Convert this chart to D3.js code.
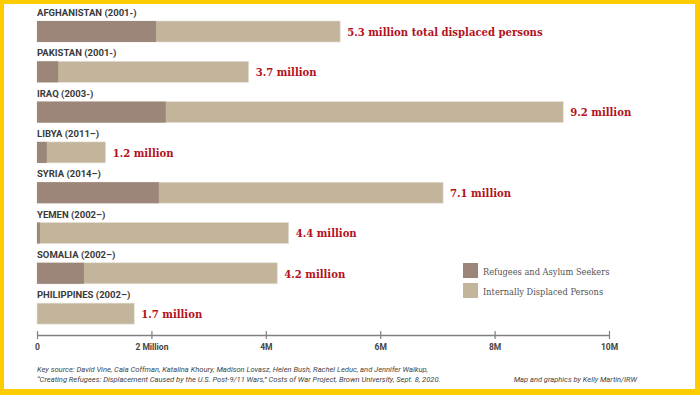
<!DOCTYPE html>
<html>
<head>
<meta charset="utf-8">
<script src="https://cdn.jsdelivr.net/npm/d3@7"></script>
<style>
  html, body { margin: 0; padding: 0; background: #FFCC00; }
  svg { display: block; }
</style>
</head>
<body>
<svg id="chart" width="700" height="395"></svg>
<script>
const countries = ["AFGHANISTAN (2001-)", "PAKISTAN (2001-)", "IRAQ (2003-)", "LIBYA (2011\u2013)", "SYRIA (2014\u2013)", "YEMEN (2002\u2013)", "SOMALIA (2002\u2013)", "PHILIPPINES (2002\u2013)"];
const refugees = [2.08, 0.37, 2.25, 0.17, 2.13, 0.05, 0.82, 0];
const totals = [5.3, 3.7, 9.2, 1.2, 7.1, 4.4, 4.2, 1.7];
const valueLabels = ["5.3 million total displaced persons", "3.7 million", "9.2 million", "1.2 million", "7.1 million", "4.4 million", "4.2 million", "1.7 million"];
const tickValues = [0, 2, 4, 6, 8, 10];
const tickLabels = ["0", "2 Million", "4M", "6M", "8M", "10M"];
const legendLabels = ["Refugees and Asylum Seekers", "Internally Displaced Persons"];
const sourceLines = ["Key source: David Vine, Cala Coffman, Katalina Khoury, Madison Lovasz, Helen Bush, Rachel Leduc, and Jennifer Walkup,",
  "\u201CCreating Refugees: Displacement Caused by the U.S. Post-9/11 Wars,\u201D Costs of War Project, Brown University, Sept. 8, 2020."];
const credit = "Map and graphics by Kelly Martin/IRW";

const colors = { refugee: "#9B8679", idp: "#C2B59B", red: "#B3121C", label: "#3a3a3a", axis: "#808080" };

const svg = d3.select("#chart");
svg.append("rect").attr("x", 4).attr("y", 4).attr("width", 691).attr("height", 385).attr("fill", "#ffffff");

const x = d3.scaleLinear().domain([0, 10]).range([37, 609]);
const y = d3.scaleBand().domain(countries).range([21, 324.1]).paddingInner(0.479).paddingOuter(0);

const rows = svg.append("g").selectAll("g").data(countries).join("g");

rows.append("text")
  .attr("x", 37)
  .attr("y", d => y(d) - 5)
  .attr("font-family", "Roboto, sans-serif")
  .attr("font-weight", 700)
  .attr("font-size", 9.5)
  .attr("fill", colors.label)
  .text(d => d);

rows.append("rect")
  .attr("x", x(0))
  .attr("y", d => y(d))
  .attr("width", (d, i) => x(totals[i]) - x(0))
  .attr("height", y.bandwidth())
  .attr("fill", colors.idp)
  .attr("stroke", "#e6e0d4").attr("stroke-width", 0.6);

rows.append("rect")
  .attr("x", x(0))
  .attr("y", d => y(d))
  .attr("width", (d, i) => x(refugees[i]) - x(0))
  .attr("height", y.bandwidth())
  .attr("fill", colors.refugee);

rows.append("text")
  .attr("x", (d, i) => x(totals[i]) + 7)
  .attr("y", d => y(d) + y.bandwidth() / 2 + 4.3)
  .attr("font-family", "'DejaVu Serif', serif")
  .attr("font-stretch", "condensed")
  .attr("font-weight", 700)
  .attr("font-size", 11.2)
  .attr("fill", colors.red)
  .text((d, i) => valueLabels[i]);

// axis
const axis = d3.axisBottom(x).tickValues(tickValues).tickFormat((d, i) => tickLabels[i]).tickSize(4).tickSizeOuter(0).tickPadding(5);
const ag = svg.append("g").attr("transform", "translate(0,335)").call(axis);
ag.select(".domain").attr("stroke", colors.axis).attr("stroke-width", 1.3);
ag.selectAll(".tick line").attr("y1", -4).attr("stroke", colors.axis).attr("stroke-width", 1.2);
ag.selectAll(".tick text").attr("font-family", "Roboto, sans-serif").attr("font-weight", 700).attr("font-size", 8.5).attr("fill", "#444");

// legend
const lg = svg.append("g");
legendLabels.forEach((t, i) => {
  lg.append("rect").attr("x", 463).attr("y", 263 + i * 20).attr("width", 15).attr("height", 15)
    .attr("fill", i === 0 ? colors.refugee : colors.idp);
  lg.append("text").attr("x", 483).attr("y", 274.5 + i * 20)
    .attr("font-family", "'DejaVu Serif', serif").attr("font-stretch", "condensed")
    .attr("font-size", 9.2).attr("fill", "#555").text(t);
});

// footer
sourceLines.forEach((t, i) => {
  svg.append("text").attr("x", 37).attr("y", 372 + i * 10)
    .attr("font-family", "Roboto, sans-serif").attr("font-style", "italic")
    .attr("font-size", 7.55).attr("fill", "#444").text(t);
});
svg.append("text").attr("x", 637).attr("y", 382).attr("text-anchor", "end")
  .attr("font-family", "Roboto, sans-serif").attr("font-style", "italic")
  .attr("font-size", 7.5).attr("fill", "#444").text(credit);
</script>
</body>
</html>
